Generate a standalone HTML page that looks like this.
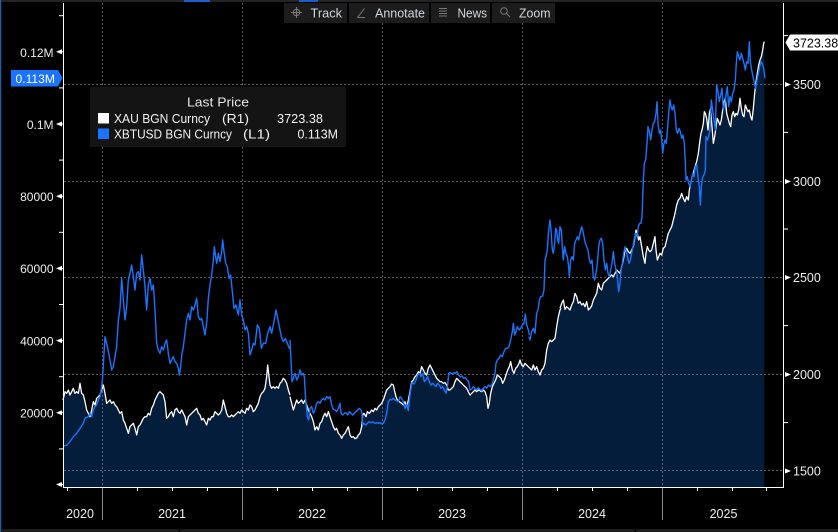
<!DOCTYPE html>
<html>
<head>
<meta charset="utf-8">
<style>
html,body{margin:0;padding:0;background:#000;}
svg{display:block;}
text{font-family:"Liberation Sans",sans-serif;}
</style>
</head>
<body>
<svg width="838" height="532" viewBox="0 0 838 532" xmlns="http://www.w3.org/2000/svg">
<rect x="0" y="0" width="838" height="532" fill="#000"/>
<!-- top strip -->
<rect x="0" y="0" width="838" height="2" fill="#242424"/>
<rect x="184" y="0" width="26" height="2" fill="#1a5fcc"/>
<rect x="299" y="0" width="19" height="2" fill="#1a5fcc"/>
<!-- left edge line -->
<rect x="0" y="0" width="1.2" height="532" fill="#1d5fae"/>

<!-- AREA FILL (gold) -->
<g fill="#031d3b" stroke="none">
<polygon transform="translate(60,220) scale(0.33333)" points="9,540 15,515 20,520 25,510 30,525 35,515 40,505 45,520 50,515 55,520 60,490 65,520 70,525 75,545 80,570 85,580 90,590 95,570 100,545 105,555 110,535 115,530 120,525 125,510 130,495 135,520 140,550 145,545 150,540 155,550 160,545 165,555 170,560 175,570 180,580 185,575 190,600 195,610 200,625 205,640 210,620 215,615 220,610 225,625 230,645 235,620 240,615 245,605 250,595 255,590 260,590 265,580 270,585 275,565 280,555 285,540 290,530 295,520 300,515 305,520 310,525 315,545 320,595 325,590 330,580 335,575 340,590 345,570 350,565 355,575 360,580 365,570 370,580 375,590 380,615 385,590 390,585 395,580 400,575 405,570 410,565 415,580 420,585 425,600 430,595 435,605 440,615 445,595 450,600 455,590 460,590 465,575 470,580 475,585 480,580 485,570 490,540 495,560 500,580 505,590 510,590 515,585 520,590 525,585 530,580 535,575 540,580 545,570 550,575 555,580 560,565 565,570 570,555 575,560 580,575 585,570 590,560 595,550 600,530 605,520 610,515 615,505 620,470 623,435 627,470 630,495 635,505 640,500 645,505 650,500 655,505 660,490 665,485 670,475 675,480 680,490 685,510 690,525 690,801 9,801"/>
<polygon transform="translate(290,200) scale(0.33333)" points="0,590 5,610 10,630 15,615 20,600 25,610 30,605 35,600 40,610 45,600 50,615 55,630 60,640 65,650 70,665 75,690 80,680 85,690 90,670 95,665 100,650 105,640 110,650 115,635 120,650 125,665 130,680 135,690 140,685 145,700 150,705 155,715 160,705 165,700 170,690 175,680 180,705 185,712 190,710 195,716 200,714 205,705 210,700 215,680 218,645 222,640 228,650 232,635 238,640 245,630 250,635 255,625 260,630 265,620 270,615 275,610 280,600 285,585 290,570 295,565 300,560 305,552 310,555 313,570 318,590 322,600 328,605 335,610 340,615 345,605 350,620 355,600 360,575 365,545 370,540 375,530 380,525 385,515 390,520 395,500 400,510 405,520 410,525 415,505 420,495 425,505 430,515 435,525 440,535 445,540 450,545 455,545 460,550 465,548 470,555 475,570 480,570 485,565 490,560 495,545 500,535 505,540 510,545 515,550 520,555 525,560 530,565 535,575 540,585 545,580 550,575 555,570 560,575 565,570 570,572 575,575 580,570 585,575 590,590 594,625 598,610 602,580 607,560 612,550 617,540 622,525 628,530 633,535 638,550 643,540 648,525 653,510 658,500 662,485 667,510 672,520 677,505 682,500 687,490 690,480 695,495 700,500 705,490 710,495 715,500 720,505 720,861 0,861"/>
<polygon transform="translate(500,290) scale(0.33333)" points="90,235 95,240 100,225 105,240 110,230 115,245 120,255 125,240 130,235 135,220 140,180 145,160 150,150 155,155 160,150 165,145 170,110 175,80 180,60 180,591 90,591"/>
<polygon transform="translate(530,30) scale(0.33333)" points="90,835 95,820 100,810 105,838 110,830 115,835 120,840 125,825 130,815 135,790 140,800 145,820 150,815 155,825 160,820 165,830 170,815 175,840 180,835 185,828 190,810 195,800 200,790 205,760 210,775 215,780 220,760 225,755 230,750 235,745 240,740 245,735 250,740 255,730 260,720 265,725 270,730 275,710 280,690 285,660 290,655 295,665 300,670 305,660 310,650 315,620 318,600 322,610 326,630 330,620 335,650 340,680 345,700 348,670 352,650 356,660 360,665 365,660 370,640 375,620 378,660 382,690 386,680 390,670 395,675 400,655 405,650 410,630 415,610 420,600 425,590 430,570 435,550 440,525 445,510 450,505 455,490 460,505 465,515 470,500 475,510 478,480 482,460 486,440 490,430 495,410 500,395 505,370 510,330 513,310 516,300 520,280 523,245 526,250 530,265 534,300 538,250 542,235 546,290 550,340 554,320 558,290 562,265 566,275 570,285 574,270 578,240 582,215 586,205 590,250 594,265 598,280 602,290 606,255 610,245 614,260 618,250 622,255 626,240 630,205 634,235 638,255 642,260 646,225 650,235 654,245 658,240 662,260 666,270 670,235 674,190 678,155 682,130 686,105 690,90 694,80 698,60 701,40 703,35 703,1371 90,1371"/>
</g>

<!-- GRIDLINES -->
<g stroke="rgba(165,165,165,0.55)" stroke-width="1" stroke-dasharray="2,2" fill="none">
<line x1="102.5" y1="3" x2="102.5" y2="487"/>
<line x1="242.5" y1="3" x2="242.5" y2="487"/>
<line x1="382.5" y1="3" x2="382.5" y2="487"/>
<line x1="522.5" y1="3" x2="522.5" y2="487"/>
<line x1="662.5" y1="3" x2="662.5" y2="487"/>
<line x1="64" y1="84.5" x2="783" y2="84.5"/>
<line x1="64" y1="181.5" x2="783" y2="181.5"/>
<line x1="64" y1="277.5" x2="783" y2="277.5"/>
<line x1="64" y1="374.5" x2="783" y2="374.5"/>
<line x1="64" y1="470.5" x2="783" y2="470.5"/>
</g>

<!-- GOLD LINE (white) -->
<g fill="none" stroke="#ffffff" stroke-width="1.3" stroke-linejoin="round">
<polyline vector-effect="non-scaling-stroke" transform="translate(60,220) scale(0.33333)" points="9,540 15,515 20,520 25,510 30,525 35,515 40,505 45,520 50,515 55,520 60,490 65,520 70,525 75,545 80,570 85,580 90,590 95,570 100,545 105,555 110,535 115,530 120,525 125,510 130,495 135,520 140,550 145,545 150,540 155,550 160,545 165,555 170,560 175,570 180,580 185,575 190,600 195,610 200,625 205,640 210,620 215,615 220,610 225,625 230,645 235,620 240,615 245,605 250,595 255,590 260,590 265,580 270,585 275,565 280,555 285,540 290,530 295,520 300,515 305,520 310,525 315,545 320,595 325,590 330,580 335,575 340,590 345,570 350,565 355,575 360,580 365,570 370,580 375,590 380,615 385,590 390,585 395,580 400,575 405,570 410,565 415,580 420,585 425,600 430,595 435,605 440,615 445,595 450,600 455,590 460,590 465,575 470,580 475,585 480,580 485,570 490,540 495,560 500,580 505,590 510,590 515,585 520,590 525,585 530,580 535,575 540,580 545,570 550,575 555,580 560,565 565,570 570,555 575,560 580,575 585,570 590,560 595,550 600,530 605,520 610,515 615,505 620,470 623,435 627,470 630,495 635,505 640,500 645,505 650,500 655,505 660,490 665,485 670,475 675,480 680,490 685,510 690,525"/>
<polyline vector-effect="non-scaling-stroke" transform="translate(290,200) scale(0.33333)" points="0,590 5,610 10,630 15,615 20,600 25,610 30,605 35,600 40,610 45,600 50,615 55,630 60,640 65,650 70,665 75,690 80,680 85,690 90,670 95,665 100,650 105,640 110,650 115,635 120,650 125,665 130,680 135,690 140,685 145,700 150,705 155,715 160,705 165,700 170,690 175,680 180,705 185,712 190,710 195,716 200,714 205,705 210,700 215,680 218,645 222,640 228,650 232,635 238,640 245,630 250,635 255,625 260,630 265,620 270,615 275,610 280,600 285,585 290,570 295,565 300,560 305,552 310,555 313,570 318,590 322,600 328,605 335,610 340,615 345,605 350,620 355,600 360,575 365,545 370,540 375,530 380,525 385,515 390,520 395,500 400,510 405,520 410,525 415,505 420,495 425,505 430,515 435,525 440,535 445,540 450,545 455,545 460,550 465,548 470,555 475,570 480,570 485,565 490,560 495,545 500,535 505,540 510,545 515,550 520,555 525,560 530,565 535,575 540,585 545,580 550,575 555,570 560,575 565,570 570,572 575,575 580,570 585,575 590,590 594,625 598,610 602,580 607,560 612,550 617,540 622,525 628,530 633,535 638,550 643,540 648,525 653,510 658,500 662,485 667,510 672,520 677,505 682,500 687,490 690,480 695,495 700,500 705,490 710,495 715,500 720,505"/>
<polyline vector-effect="non-scaling-stroke" transform="translate(500,290) scale(0.33333)" points="90,235 95,240 100,225 105,240 110,230 115,245 120,255 125,240 130,235 135,220 140,180 145,160 150,150 155,155 160,150 165,145 170,110 175,80 180,60 183,55"/>
<polyline vector-effect="non-scaling-stroke" transform="translate(530,30) scale(0.33333)" points="90,835 95,820 100,810 105,838 110,830 115,835 120,840 125,825 130,815 135,790 140,800 145,820 150,815 155,825 160,820 165,830 170,815 175,840 180,835 185,828 190,810 195,800 200,790 205,760 210,775 215,780 220,760 225,755 230,750 235,745 240,740 245,735 250,740 255,730 260,720 265,725 270,730 275,710 280,690 285,660 290,655 295,665 300,670 305,660 310,650 315,620 318,600 322,610 326,630 330,620 335,650 340,680 345,700 348,670 352,650 356,660 360,665 365,660 370,640 375,620 378,660 382,690 386,680 390,670 395,675 400,655 405,650 410,630 415,610 420,600 425,590 430,570 435,550 440,525 445,510 450,505 455,490 460,505 465,515 470,500 475,510 478,480 482,460 486,440 490,430 495,410 500,395 505,370 510,330 513,310 516,300 520,280 523,245 526,250 530,265 534,300 538,250 542,235 546,290 550,340 554,320 558,290 562,265 566,275 570,285 574,270 578,240 582,215 586,205 590,250 594,265 598,280 602,290 606,255 610,245 614,260 618,250 622,255 626,240 630,205 634,235 638,255 642,260 646,225 650,235 654,245 658,240 662,260 666,270 670,235 674,190 678,155 682,130 686,105 690,90 694,80 698,60 701,40 703,35"/>
</g>

<!-- BTC LINE (blue) -->
<g fill="none" stroke="#1a74ff" stroke-width="1.4" stroke-linejoin="round">
<polyline vector-effect="non-scaling-stroke" transform="translate(60,220) scale(0.33333)" points="10,678 20,676 30,665 40,650 50,640 60,625 70,610 75,595 85,590 90,580 95,590 100,570 105,560 110,555 115,540 120,530 125,500 128,470 132,400 135,350 140,370 145,395 150,420 155,450 160,440 165,410 170,380 175,300 180,265 185,175 190,240 195,300 200,260 205,180 210,160 215,135 220,170 225,210 230,160 235,155 240,180 245,105 250,150 255,200 260,270 265,195 270,175 275,210 280,195 285,270 290,370 295,390 300,400 305,380 310,390 315,370 320,360 325,400 330,430 335,420 340,410 345,425 350,430 355,445 358,465 362,440 366,400 370,380 375,340 380,300 385,280 390,300 395,260 400,270 405,255 410,235 415,290 420,300 425,295 430,320 435,345 440,310 445,235 450,195 455,165 460,120 463,80 467,110 470,130 475,100 480,125 485,95 488,60 492,95 497,130 502,140 507,175 512,165 517,215 522,265 528,255 535,285 540,240 545,285 550,300 555,330 560,320 565,340 570,405 575,390 580,370 585,375 592,315 598,325 604,385 610,370 617,370 623,340 630,320 635,340 642,305 648,270 652,290 658,320 664,350 670,365 676,355 682,370 688,385 690,380"/>
<polyline vector-effect="non-scaling-stroke" transform="translate(290,200) scale(0.33333)" points="0,420 3,480 6,545 10,535 15,520 20,540 25,530 30,510 35,525 40,520 43,530 47,600 52,650 56,660 60,625 65,620 70,640 75,630 80,610 85,605 90,610 95,600 100,595 105,600 110,590 115,595 120,590 125,615 130,628 135,630 140,635 145,625 150,610 153,640 158,645 163,640 168,638 173,645 178,635 183,640 188,645 193,640 198,635 203,630 208,625 213,630 216,640 218,675 222,670 227,675 232,670 237,665 242,668 248,665 255,670 260,668 265,670 270,668 275,672 280,670 285,660 290,640 295,605 300,598 305,600 310,595 315,600 320,602 325,605 330,590 335,595 340,605 345,625 350,612 355,632 358,600 362,570 366,548 372,552 378,540 383,525 388,520 393,530 398,520 403,545 408,540 413,530 418,545 423,555 428,550 433,555 438,560 443,550 448,555 453,565 458,560 463,570 468,580 473,555 476,520 481,518 486,522 491,518 496,520 501,515 506,525 511,530 516,528 521,535 526,533 531,540 536,545 540,570 545,568 550,560 555,565 560,570 565,563 570,568 575,572 580,565 585,560 590,565 595,555 600,560 605,555 610,540 615,520 618,490 622,480 627,475 632,465 637,470 642,455 647,445 652,445 657,440 662,420 667,395 670,370 674,405 678,395 682,380 688,390 692,385 697,375 702,370 706,342 710,375 715,390 718,405"/>
<polyline vector-effect="non-scaling-stroke" transform="translate(500,290) scale(0.33333)" points="87,140 90,150 95,125 100,115 105,130 110,70 115,55"/>
<polyline vector-effect="non-scaling-stroke" transform="translate(530,30) scale(0.33333)" points="25,835 28,810 32,800 38,798 42,780 45,690 48,680 52,660 55,610 60,570 63,600 67,660 70,670 74,640 77,595 80,600 83,630 86,640 90,590 94,600 97,650 100,690 104,650 108,670 112,680 116,710 118,740 122,690 126,680 130,690 134,640 138,630 142,620 146,630 150,610 155,590 158,600 162,620 166,640 170,650 174,660 178,690 182,700 186,690 190,740 194,750 198,730 202,700 206,650 210,630 214,625 218,640 222,690 226,720 230,700 234,730 238,740 242,720 246,700 250,665 254,700 258,720 262,740 266,785 270,760 273,720 277,700 281,670 285,650 289,665 293,685 297,700 301,690 305,670 309,650 313,625 317,610 321,620 325,590 329,580 333,580 336,560 340,450 343,400 347,390 351,340 354,290 358,305 362,330 366,300 370,280 374,275 378,250 381,215 384,280 388,310 392,300 396,340 398,370 401,345 405,330 409,340 413,290 416,250 420,210 423,230 427,240 431,225 435,250 439,300 443,310 447,295 451,305 455,325 459,315 463,340 466,400 468,450 472,440 476,460 480,470 484,450 488,430 492,440 496,410 500,405 504,440 508,470 511,525 514,470 518,440 522,435 526,420 528,320 532,330 536,320 540,300 544,210 548,240 552,270 556,300 560,165 564,185 568,215 572,195 576,175 580,240 584,225 588,195 592,170 596,230 600,200 604,215 608,190 612,180 616,150 619,100 622,65 626,80 630,90 634,70 638,85 642,100 646,120 650,95 654,100 658,35 661,95 665,120 669,140 673,160 677,175 681,150 685,130 689,110 693,95 697,100 701,115 705,145"/>
</g>

<!-- AXES -->
<g stroke="#ffffff" stroke-width="1" fill="none">
<line x1="63.5" y1="3" x2="63.5" y2="488"/>
<line x1="783.5" y1="3" x2="783.5" y2="488"/>
<line x1="63" y1="487.5" x2="784" y2="487.5"/>
<!-- left minor ticks -->
<line x1="59" y1="15.7" x2="63" y2="15.7"/>
<line x1="59" y1="87.9" x2="63" y2="87.9"/>
<line x1="59" y1="160.1" x2="63" y2="160.1"/>
<line x1="59" y1="232.3" x2="63" y2="232.3"/>
<line x1="59" y1="304.5" x2="63" y2="304.5"/>
<line x1="59" y1="376.7" x2="63" y2="376.7"/>
<line x1="59" y1="448.9" x2="63" y2="448.9"/>
<!-- right minor ticks -->
<line x1="784" y1="35.6" x2="788" y2="35.6"/>
<line x1="784" y1="132.4" x2="788" y2="132.4"/>
<line x1="784" y1="229" x2="788" y2="229"/>
<line x1="784" y1="325.6" x2="788" y2="325.6"/>
<line x1="784" y1="422.6" x2="788" y2="422.6"/>
<!-- quarter ticks -->
<line x1="67.5" y1="488" x2="67.5" y2="491"/>
<line x1="137.5" y1="488" x2="137.5" y2="491"/>
<line x1="172.5" y1="488" x2="172.5" y2="491"/>
<line x1="207.5" y1="488" x2="207.5" y2="491"/>
<line x1="277.5" y1="488" x2="277.5" y2="491"/>
<line x1="312.5" y1="488" x2="312.5" y2="491"/>
<line x1="347.5" y1="488" x2="347.5" y2="491"/>
<line x1="417.5" y1="488" x2="417.5" y2="491"/>
<line x1="452.5" y1="488" x2="452.5" y2="491"/>
<line x1="487.5" y1="488" x2="487.5" y2="491"/>
<line x1="557.5" y1="488" x2="557.5" y2="491"/>
<line x1="592.5" y1="488" x2="592.5" y2="491"/>
<line x1="627.5" y1="488" x2="627.5" y2="491"/>
<line x1="697.5" y1="488" x2="697.5" y2="491"/>
<line x1="732.5" y1="488" x2="732.5" y2="491"/>
<line x1="766.5" y1="488" x2="766.5" y2="491"/>
</g>
<!-- year separators -->
<g stroke="#8a8a8a" stroke-width="1">
<line x1="102.5" y1="488" x2="102.5" y2="520"/>
<line x1="242.5" y1="488" x2="242.5" y2="520"/>
<line x1="382.5" y1="488" x2="382.5" y2="520"/>
<line x1="522.5" y1="488" x2="522.5" y2="520"/>
<line x1="662.5" y1="488" x2="662.5" y2="520"/>
</g>

<!-- left major markers -->
<g fill="#ffffff">
<polygon points="56,51.8 62,49.3 62,54.3"/><rect x="61" y="51.3" width="2.5" height="1"/>
<polygon points="56,124 62,121.5 62,126.5"/><rect x="61" y="123.5" width="2.5" height="1"/>
<polygon points="56,196.2 62,193.7 62,198.7"/><rect x="61" y="195.7" width="2.5" height="1"/>
<polygon points="56,268.4 62,265.9 62,270.9"/><rect x="61" y="267.9" width="2.5" height="1"/>
<polygon points="56,340.6 62,338.1 62,343.1"/><rect x="61" y="340.1" width="2.5" height="1"/>
<polygon points="56,412.8 62,410.3 62,415.3"/><rect x="61" y="412.3" width="2.5" height="1"/>
<polygon points="56,484.5 62,482 62,487"/><rect x="61" y="484" width="2.5" height="1"/>
<!-- right major markers -->
<polygon points="791,84.5 785,82 785,87"/>
<polygon points="791,181.5 785,179 785,184"/>
<polygon points="791,277.5 785,275 785,280"/>
<polygon points="791,374.5 785,372 785,377"/>
<polygon points="791,471 785,468.5 785,473.5"/>
</g>

<!-- left labels -->
<g fill="#eeeeee" font-size="12" text-anchor="end">
<text x="53.5" y="57">0.12M</text>
<text x="53.5" y="129">0.1M</text>
<text x="53.5" y="201">80000</text>
<text x="53.5" y="273">60000</text>
<text x="53.5" y="345.5">40000</text>
<text x="53.5" y="417.5">20000</text>
</g>
<!-- 0.113M label -->
<polygon points="11,70 58,70 62.5,78 58,86.5 11,86.5" fill="#1a74ff"/>
<text x="15.5" y="83" fill="#ffffff" font-size="12" textLength="39.5" lengthAdjust="spacingAndGlyphs">0.113M</text>

<!-- right labels -->
<g fill="#eeeeee" font-size="12.5">
<text x="793" y="89">3500</text>
<text x="793" y="186">3000</text>
<text x="793" y="282">2500</text>
<text x="793" y="379">2000</text>
<text x="793" y="475.5">1500</text>
</g>
<polygon points="785.5,42.5 790,34.5 838,34.5 838,50.5 790,50.5" fill="#ffffff"/>
<text x="793" y="47.5" fill="#000000" font-size="12.5">3723.38</text>

<!-- year labels -->
<g fill="#eeeeee" font-size="12.5" text-anchor="middle">
<text x="80" y="518">2020</text>
<text x="172" y="518">2021</text>
<text x="312" y="518">2022</text>
<text x="452" y="518">2023</text>
<text x="592" y="518">2024</text>
<text x="723.5" y="518">2025</text>
</g>

<!-- bottom strip -->
<rect x="1" y="529" width="837" height="3" fill="#1e1e1e"/>
<rect x="178.5" y="529" width="1.5" height="3" fill="#000"/>
<rect x="634.5" y="529" width="1.5" height="3" fill="#000"/>

<!-- LEGEND -->
<rect x="90" y="87" width="256" height="60" fill="#141414"/>
<text x="218" y="106.5" fill="#e6e6e6" font-size="13" text-anchor="middle" textLength="62" lengthAdjust="spacingAndGlyphs">Last Price</text>
<rect x="98" y="113" width="11" height="10.5" fill="#ffffff"/>
<rect x="98" y="128.5" width="11" height="10.5" fill="#1a74ff"/>
<g fill="#f0f0f0" font-size="13">
<text x="114" y="122.8" textLength="96" lengthAdjust="spacingAndGlyphs">XAU BGN Curncy</text>
<text x="222" y="122.8" textLength="27" lengthAdjust="spacingAndGlyphs">(R1)</text>
<text x="277" y="122.8" textLength="46" lengthAdjust="spacingAndGlyphs">3723.38</text>
<text x="114" y="138.5" textLength="118" lengthAdjust="spacingAndGlyphs">XBTUSD BGN Curncy</text>
<text x="243" y="138.5" textLength="27" lengthAdjust="spacingAndGlyphs">(L1)</text>
<text x="297.5" y="138.5" textLength="40.5" lengthAdjust="spacingAndGlyphs">0.113M</text>
</g>

<!-- TOOLBAR -->
<g fill="#1c1c1c">
<rect x="284" y="3" width="63" height="20"/>
<rect x="349" y="3" width="80" height="20"/>
<rect x="431" y="3" width="59" height="20"/>
<rect x="492" y="3" width="63" height="20"/>
</g>
<g stroke="#7a7a7a" stroke-width="1" fill="none">
<circle cx="296.5" cy="12.5" r="3.2"/>
<line x1="296.5" y1="7" x2="296.5" y2="18"/>
<line x1="291" y1="12.5" x2="302" y2="12.5"/>
<line x1="357.5" y1="17.5" x2="364.5" y2="8.5"/>
<line x1="357.5" y1="17.5" x2="365" y2="17.5"/>
<line x1="439" y1="8.5" x2="447" y2="8.5"/>
<line x1="439" y1="11" x2="447" y2="11"/>
<line x1="439" y1="13.5" x2="447" y2="13.5"/>
<line x1="439" y1="16" x2="447" y2="16"/>
<circle cx="504" cy="11" r="3.3"/>
<line x1="506.5" y1="13.5" x2="510" y2="17"/>
</g>
<g fill="#cfd6de" font-size="12.5">
<text x="310.5" y="17.5" textLength="31.5" lengthAdjust="spacingAndGlyphs">Track</text>
<text x="375" y="17.5" textLength="50" lengthAdjust="spacingAndGlyphs">Annotate</text>
<text x="457.5" y="17.5" textLength="29.5" lengthAdjust="spacingAndGlyphs">News</text>
<text x="519" y="17.5" textLength="31.5" lengthAdjust="spacingAndGlyphs">Zoom</text>
</g>
</svg>
</body>
</html>
